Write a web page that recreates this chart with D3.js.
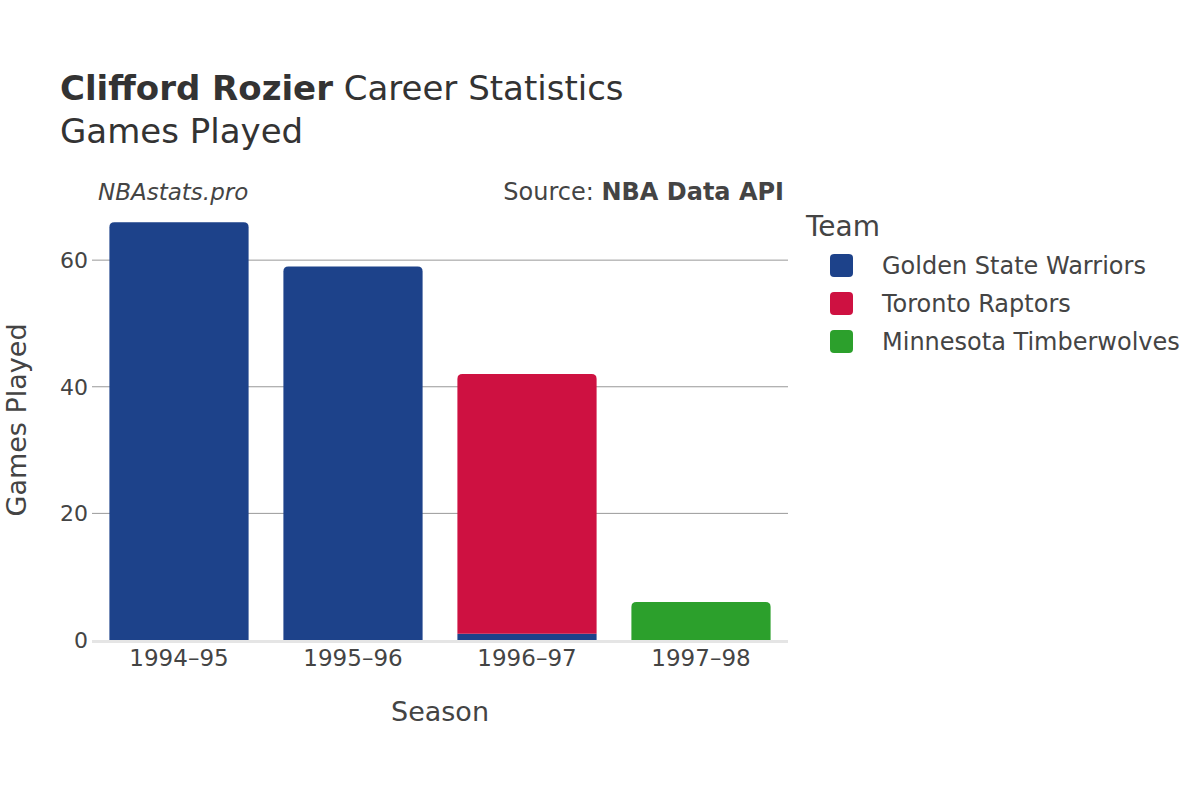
<!DOCTYPE html>
<html><head><meta charset="utf-8">
<script src="https://cdn.jsdelivr.net/npm/d3@7"></script>
<style>body{margin:0;background:#fff;font-family:"DejaVu Sans",sans-serif;}</style>
</head><body><svg id="chart" width="1200" height="800"></svg>
<script>
var seasons = ["1994\u201395", "1995\u201396", "1996\u201397", "1997\u201398"];
var teams = ["Golden State Warriors", "Toronto Raptors", "Minnesota Timberwolves"];
var colors = ["#1d428a", "#ce1141", "#2ca02c"];
var gsw = [66, 59, 1, 0];
var tor = [0, 0, 41, 0];
var min = [0, 0, 0, 6];
var yTicks = [0, 20, 40, 60];

var svg = d3.select("#chart");
var plotLeft = 92, plotRight = 788, plotTop = 200, plotBottom = 640;
var x = d3.scaleBand().domain(seasons).range([plotLeft, plotRight]).paddingInner(0.2).paddingOuter(0.1);
var y = d3.scaleLinear().domain([0, 69.5]).range([plotBottom, plotTop]);

// grid
svg.selectAll(".grid").data(yTicks.slice(1)).enter().append("line")
  .attr("x1", plotLeft).attr("x2", plotRight).attr("y1", function (d) { return y(d); }).attr("y2", function (d) { return y(d); })
  .attr("stroke", "#999").attr("stroke-width", 1);

// stacked bars
var series = [gsw, tor, min];
var rows = [];
seasons.forEach(function (s, i) {
  var base = 0;
  var topK = -1;
  series.forEach(function (arr, k) { if (arr[i] > 0) topK = k; });
  series.forEach(function (arr, k) {
    if (arr[i] > 0) {
      rows.push({ season: s, y0: base, y1: base + arr[i], color: colors[k], isTop: k === topK });
      base += arr[i];
    }
  });
});
function barPath(d) {
  var x0 = x(d.season), w = x.bandwidth(), yt = y(d.y1), yb = y(d.y0);
  var r = d.isTop ? Math.min(5, yb - yt) : 0;
  return "M" + x0 + "," + yb + "V" + (yt + r) + "Q" + x0 + "," + yt + " " + (x0 + r) + "," + yt +
    "H" + (x0 + w - r) + "Q" + (x0 + w) + "," + yt + " " + (x0 + w) + "," + (yt + r) + "V" + yb + "Z";
}
svg.selectAll(".bar").data(rows).enter().append("path")
  .attr("d", barPath).attr("fill", function (d) { return d.color; });

// zero line
svg.append("line").attr("x1", plotLeft).attr("x2", plotRight).attr("y1", y(0) + 1.5).attr("y2", y(0) + 1.5)
  .attr("stroke", "#e5e5e5").attr("stroke-width", 3);

// axis labels
svg.selectAll(".yt").data(yTicks).enter().append("text")
  .attr("x", plotLeft - 4).attr("y", function (d) { return y(d) + 8; }).attr("text-anchor", "end")
  .attr("font-size", 22).attr("fill", "#444").text(function (d) { return d; });
svg.selectAll(".xt").data(seasons).enter().append("text")
  .attr("x", function (d) { return x(d) + x.bandwidth() / 2; }).attr("y", 666).attr("text-anchor", "middle")
  .attr("font-size", 23).attr("fill", "#444").text(function (d) { return d; });

svg.append("text").attr("x", 440).attr("y", 721).attr("text-anchor", "middle").attr("font-size", 27).attr("fill", "#444").text("Season");
svg.append("text").attr("transform", "translate(26,420) rotate(-90)").attr("text-anchor", "middle").attr("font-size", 27).attr("fill", "#444").text("Games Played");

// titles
var t = svg.append("text").attr("x", 60).attr("y", 100).attr("font-size", 34).attr("fill", "#333");
t.append("tspan").attr("font-weight", "bold").text("Clifford Rozier");
t.append("tspan").text(" Career Statistics");
svg.append("text").attr("x", 60).attr("y", 143).attr("font-size", 34).attr("fill", "#333").text("Games Played");
svg.append("text").attr("x", 98).attr("y", 200).attr("font-size", 23).attr("font-style", "italic").attr("fill", "#444").text("NBAstats.pro");
var src = svg.append("text").attr("x", 784).attr("y", 200).attr("text-anchor", "end").attr("font-size", 24).attr("fill", "#444");
src.append("tspan").text("Source: ");
src.append("tspan").attr("font-weight", "bold").text("NBA Data API");

// legend
svg.append("text").attr("x", 806).attr("y", 236).attr("font-size", 28).attr("fill", "#444").text("Team");
var lg = svg.selectAll(".lg").data(teams).enter().append("g")
  .attr("transform", function (d, i) { return "translate(830," + (254 + i * 38) + ")"; });
lg.append("rect").attr("width", 23).attr("height", 23).attr("rx", 4).attr("fill", function (d, i) { return colors[i]; });
lg.append("text").attr("x", 52).attr("y", 20).attr("font-size", 24).attr("fill", "#444").text(function (d) { return d; });
</script></body></html>
